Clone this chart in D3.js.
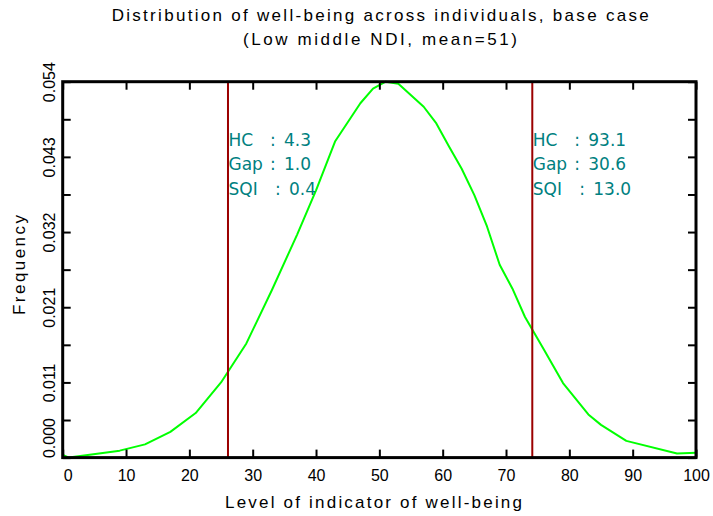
<!DOCTYPE html>
<html>
<head>
<meta charset="utf-8">
<script src="https://cdn.jsdelivr.net/npm/d3@7"></script>
<style>
  html, body { margin: 0; padding: 0; background: #fff; }
  svg { display: block; font-family: "Liberation Sans", Arial, sans-serif; }
</style>
</head>
<body>
<svg id="chart" width="713" height="516"></svg>
<script>
// ---- data ----
const curveX = [0, 1, 9, 13, 17, 21, 25, 29, 33, 37, 40, 43, 47, 49, 51, 53, 57, 59, 61, 63, 65, 67, 69, 71, 73, 76, 79, 83, 85, 89, 97, 100];
const curveY = [0.0004, 0.0000, 0.0010, 0.0019, 0.0037, 0.0064, 0.0108, 0.0164, 0.0240, 0.0320, 0.0384, 0.0454, 0.0509, 0.0530, 0.0540, 0.0537, 0.0504, 0.0480, 0.0447, 0.0415, 0.0377, 0.0332, 0.0277, 0.0243, 0.0202, 0.0155, 0.0107, 0.0062, 0.0047, 0.0024, 0.0006, 0.0007];
const povertyLines = [26.1, 74.15];
const xTicks = [0, 10, 20, 30, 40, 50, 60, 70, 80, 90, 100];
const yTicks = [0, 0.0054, 0.0108, 0.0162, 0.0216, 0.027, 0.0324, 0.0378, 0.0432, 0.0486, 0.054];
const yTickLabels = ["0.000", "", "0.011", "", "0.021", "", "0.032", "", "0.043", "", "0.054"];
const statNames = ["HC", "Gap", "SQI"];
const statsLeft = ["4.3", "1.0", "0.4"];
const statsRight = ["93.1", "30.6", "13.0"];
const titleLines = ["Distribution of well-being across individuals, base case", "(Low middle NDI, mean=51)"];
const xTitle = "Level of indicator of well-being";
const yTitle = "Frequency";

// ---- layout ----
const L = 62.7, R = 696, T = 81.7, B = 457.6;
const svg = d3.select("#chart");
const x = d3.scaleLinear().domain([0, 100]).range([L, R]);
const y = d3.scaleLinear().domain([0, 0.054]).range([B, T]);

// curve
const line = d3.line().x((d, i) => x(curveX[i])).y(d => y(d));
svg.append("path").datum(curveY)
  .attr("d", line).attr("fill", "none")
  .attr("stroke", "#00ff00").attr("stroke-width", 2).attr("stroke-linejoin", "round");

// poverty lines
svg.selectAll("line.pov").data(povertyLines).enter().append("line")
  .attr("class", "pov")
  .attr("x1", d => x(d)).attr("x2", d => x(d))
  .attr("y1", T).attr("y2", B)
  .attr("stroke", "#9b0000").attr("stroke-width", 2);

// annotations
function annot(x0, vals) {
  const g = svg.append("g").attr("fill", "#008080").attr("font-size", 17)
    .attr("font-family", "'DejaVu Sans', sans-serif");
  statNames.forEach((n, i) => {
    const yy = 145.7 + i * 24.7;
    const extra = n === "SQI" ? 5 : 0;
    g.append("text").attr("x", x0).attr("y", yy).text(n);
    g.append("text").attr("x", x0 + 41.5 + extra).attr("y", yy).text(":");
    g.append("text").attr("x", x0 + 55.5 + extra).attr("y", yy).text(vals[i]);
  });
}
annot(x(povertyLines[0]) + 0.5, statsLeft);
annot(x(povertyLines[1]) + 0.5, statsRight);

// axes
const axB = svg.append("g").attr("transform", `translate(0,${B})`)
  .call(d3.axisBottom(x).tickValues(xTicks).tickSize(-8).tickPadding(12).tickFormat(d3.format("d")));
const axT = svg.append("g").attr("transform", `translate(0,${T})`)
  .call(d3.axisTop(x).tickValues(xTicks).tickSize(-8).tickFormat(""));
const axL = svg.append("g").attr("transform", `translate(${L},0)`)
  .call(d3.axisLeft(y).tickValues(yTicks).tickSize(-8).tickFormat((d, i) => yTickLabels[i]));
const axR = svg.append("g").attr("transform", `translate(${R},0)`)
  .call(d3.axisRight(y).tickValues(yTicks).tickSize(-8).tickFormat(""));

[axB, axT, axL, axR].forEach(g => {
  g.select(".domain").remove();
  g.selectAll(".tick line").attr("stroke", "#000").attr("stroke-width", 2);
  g.selectAll("text").attr("font-family", "'Liberation Sans', Arial, sans-serif").attr("font-size", 16).attr("fill", "#000");
});
axB.selectAll(".tick text").each(function(d) {
  if (d === 0) d3.select(this).attr("text-anchor", "start").attr("x", 0.6);
});
axL.selectAll(".tick text").each(function(d) {
  const t = d3.select(this);
  const shift = d === 0 ? -20 : 0;
  t.attr("x", 0).attr("y", 0).attr("dy", null)
   .attr("transform", `translate(${55 - L},${shift}) rotate(-90)`)
   .attr("text-anchor", "middle");
});

// frame
svg.append("rect").attr("x", L).attr("y", T).attr("width", R - L).attr("height", B - T)
  .attr("fill", "none").attr("stroke", "#000").attr("stroke-width", 3);

// titles
svg.append("text").attr("x", 111.7).attr("y", 21).attr("font-size", 17)
  .attr("textLength", 537).attr("lengthAdjust", "spacing").text(titleLines[0]);
svg.append("text").attr("x", 243).attr("y", 45).attr("font-size", 17)
  .attr("textLength", 274).attr("lengthAdjust", "spacing").text(titleLines[1]);
svg.append("text").attr("x", 225).attr("y", 507.7).attr("font-size", 17)
  .attr("textLength", 297).attr("lengthAdjust", "spacing").text(xTitle);
svg.append("text").attr("transform", "translate(25,265) rotate(-90)").attr("text-anchor", "middle")
  .attr("font-size", 17).attr("textLength", 100).attr("lengthAdjust", "spacing").text(yTitle);
</script>
</body>
</html>
